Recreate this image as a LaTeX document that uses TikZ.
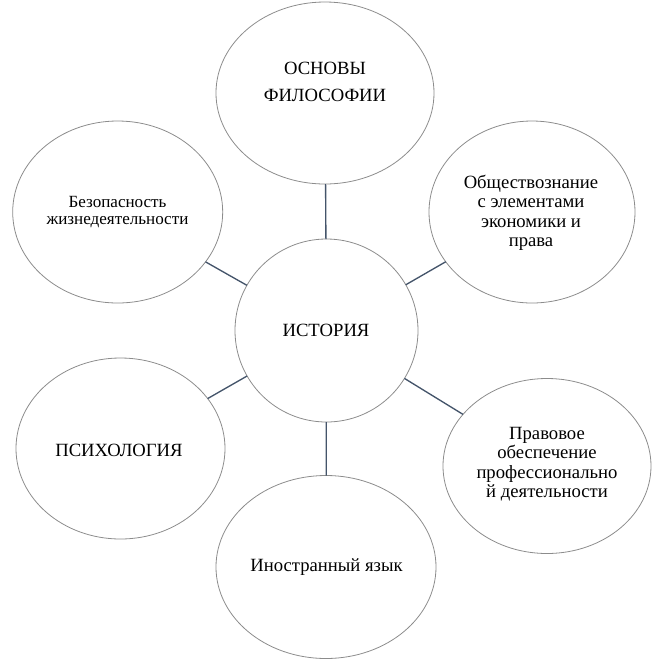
\documentclass[tikz,border=0pt]{standalone}
\usepackage{fontspec}
\setmainfont{Liberation Serif}
\usetikzlibrary{shapes.geometric}
\definecolor{conn}{HTML}{44546A}
\definecolor{rim}{HTML}{8C8C8C}
\begin{document}
\begin{tikzpicture}[x=0.75pt,y=-0.75pt,
  bubble/.style={ellipse,draw=rim,line width=0.6pt,inner sep=0pt,outer sep=0pt},
  txt/.style={align=center,inner sep=0pt,text=black},
  big/.style={font=\fontsize{14}{20.25}\selectfont},
  small/.style={font=\fontsize{14}{14.6}\selectfont},
  link/.style={draw=conn,line width=1pt}]
\useasboundingbox (0,0) rectangle (653,662);
% bubbles
\node[bubble,minimum width=163.5pt,minimum height=136.5pt] (top) at (325,93) {};
\node[bubble,minimum width=157.5pt,minimum height=136.5pt] (lt) at (117.7,212) {};
\node[bubble,minimum width=154.5pt,minimum height=136.5pt] (rt) at (532,212) {};
\node[bubble,minimum width=156.75pt,minimum height=135.75pt] (lb) at (120.5,448.5) {};
\node[bubble,minimum width=156pt,minimum height=131.25pt] (rb) at (547,466) {};
\node[bubble,minimum width=165pt,minimum height=137.25pt] (bt) at (326,567) {};
\node[bubble,minimum width=137.25pt,minimum height=137.25pt] (c) at (326.5,330.5) {};
% texts
\node[txt,big] (ttop) at (325,82) {ОСНОВЫ\\ФИЛОСОФИИ};
\node[txt,font=\fontsize{12.8}{12.8}\selectfont] (tlt) at (117.5,212) {Безопасность\\жизнедеятельности};
\node[txt,small] (trt) at (531,213) {Обществознание\\с элементами\\экономики и\\права};
\node[txt,big] (tlb) at (119,450) {ПСИХОЛОГИЯ};
\node[txt,small] (trb) at (547,464) {Правовое\\обеспечение\\профессионально\\й деятельности};
\node[txt,big] (tbt) at (326.5,567) {Иностранный язык};
\node[txt,big] (tc) at (326,330) {ИСТОРИЯ};
% connectors
\draw[link] (c) -- (top);
\draw[link] (c) -- (lt);
\draw[link] (c) -- (rt);
\draw[link] (c) -- (lb);
\draw[link] (c) -- (rb);
\draw[link] (c) -- (bt);
\end{tikzpicture}
\end{document}
